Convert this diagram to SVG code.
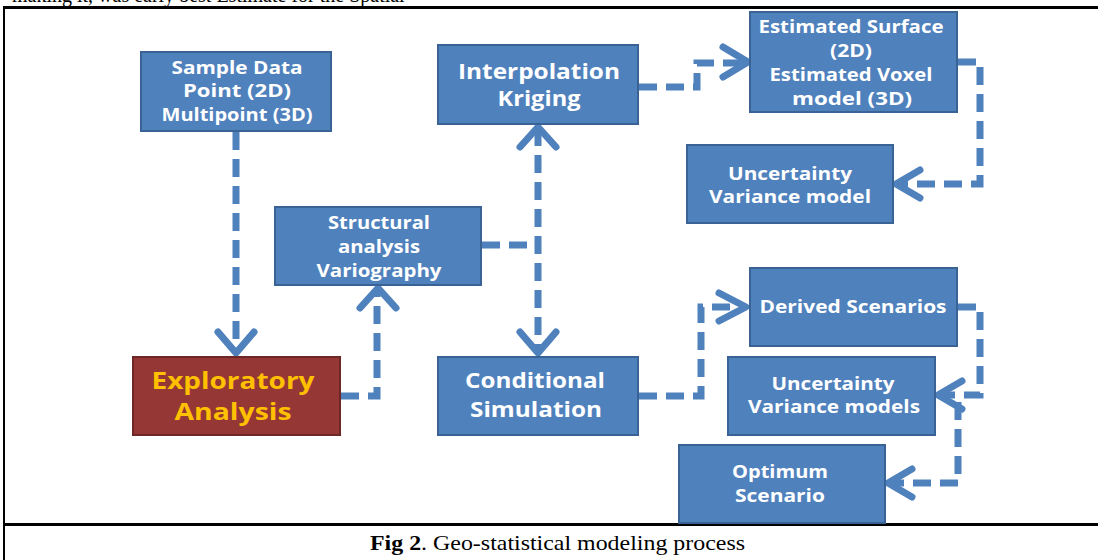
<svg xmlns="http://www.w3.org/2000/svg" width="1098" height="560" viewBox="0 0 1098 560">
<style>
.box{fill:#4F81BD;stroke:#3A6395;stroke-width:2}
.red{fill:#953735;stroke:#6B2826;stroke-width:2}
.t{font-family:"Open Sans","Liberation Sans",sans-serif;font-weight:bold;fill:#FFFFFF;text-anchor:middle}
.ty{font-family:"Open Sans","Liberation Sans",sans-serif;font-weight:bold;fill:#FFC000;text-anchor:middle}
.c{fill:none;stroke:#4F81BD;stroke-width:7;stroke-dasharray:18 9}
.h{fill:none;stroke:#4F81BD;stroke-width:7;stroke-linecap:round;stroke-linejoin:round}
.frame{stroke:#000;fill:none}
.cap{font-family:"Liberation Serif",serif;fill:#000}
</style>
<rect width="1098" height="560" fill="#fff"/>
<text class="cap" font-size="20" x="12" y="1.5">making it, was early best Estimate for the Spatial</text>
<line class="frame" x1="3" y1="7.5" x2="1098" y2="7.5" stroke-width="3"/>
<line class="frame" x1="4" y1="6" x2="4" y2="560" stroke-width="2"/>
<line class="frame" x1="3" y1="524.5" x2="1098" y2="524.5" stroke-width="3"/>
<text class="cap" font-size="22" x="370" y="550" textLength="375" lengthAdjust="spacingAndGlyphs"><tspan font-weight="bold">Fig 2</tspan>. Geo-statistical modeling process</text>

<g id="connectors">
<path class="c" d="M236,132 V350"/>
<path class="h" d="M218,332 L236,353 L254,332"/>
<path class="c" d="M341,396 H377 V290"/>
<path class="h" d="M360,308 L378,288 L396,308"/>
<path class="c" d="M482,245 H538"/>
<path class="c" d="M538,128 V352"/>
<path class="h" d="M520,147 L538,127 L556,147"/>
<path class="h" d="M520,332 L538,353 L556,332"/>
<path class="c" d="M639,87 H697 V63 H744"/>
<path class="h" d="M723,47 L748,62 L723,77"/>
<path class="c" d="M958,62 H980 V184 H900"/>
<path class="h" d="M920,170 L896,184 L920,198"/>
<path class="c" d="M639,396 H701 V307 H744"/>
<path class="h" d="M719,293 L746,307 L719,321"/>
<path class="c" d="M958,307 H980 V395 H942"/>
<path class="h" d="M962,381 L938,395 L962,409"/>
<path class="c" d="M958,402 V483 H892"/>
<path class="h" d="M912,469 L888,483 L912,497"/>
</g>

<g id="sample">
<rect class="box" x="141" y="52" width="190" height="79"/>
<text class="t" font-size="18" x="237" y="74" textLength="131" lengthAdjust="spacingAndGlyphs">Sample Data</text>
<text class="t" font-size="18" x="237" y="97" textLength="108" lengthAdjust="spacingAndGlyphs">Point  (2D)</text>
<text class="t" font-size="18" x="237" y="121" textLength="151" lengthAdjust="spacingAndGlyphs">Multipoint (3D)</text>
</g>
<g id="kriging">
<rect class="box" x="438" y="45" width="200" height="79"/>
<text class="t" font-size="21" x="539" y="79" textLength="162" lengthAdjust="spacingAndGlyphs">Interpolation</text>
<text class="t" font-size="21" x="539" y="106" textLength="83" lengthAdjust="spacingAndGlyphs">Kriging</text>
</g>
<g id="estimated">
<rect class="box" x="750" y="12" width="207" height="100"/>
<text class="t" font-size="18" x="851" y="33" textLength="185" lengthAdjust="spacingAndGlyphs">Estimated Surface</text>
<text class="t" font-size="18" x="851" y="57" textLength="42" lengthAdjust="spacingAndGlyphs">(2D)</text>
<text class="t" font-size="18" x="851" y="81" textLength="163" lengthAdjust="spacingAndGlyphs">Estimated Voxel</text>
<text class="t" font-size="18" x="852" y="105" textLength="120" lengthAdjust="spacingAndGlyphs">model  (3D)</text>
</g>
<g id="uncert1">
<rect class="box" x="687" y="145" width="206" height="78"/>
<text class="t" font-size="18" x="790" y="180" textLength="124" lengthAdjust="spacingAndGlyphs">Uncertainty</text>
<text class="t" font-size="18" x="790" y="203" textLength="162" lengthAdjust="spacingAndGlyphs">Variance model</text>
</g>
<g id="structural">
<rect class="box" x="275" y="207" width="206" height="78"/>
<text class="t" font-size="18" x="379" y="229" textLength="102" lengthAdjust="spacingAndGlyphs">Structural</text>
<text class="t" font-size="18" x="379" y="253" textLength="82" lengthAdjust="spacingAndGlyphs">analysis</text>
<text class="t" font-size="18" x="379" y="277" textLength="125" lengthAdjust="spacingAndGlyphs">Variography</text>
</g>
<g id="exploratory">
<rect class="red" x="133" y="357" width="207" height="78"/>
<text class="ty" font-size="23" x="233" y="389" textLength="163" lengthAdjust="spacingAndGlyphs">Exploratory</text>
<text class="ty" font-size="23" x="233" y="420" textLength="117" lengthAdjust="spacingAndGlyphs">Analysis</text>
</g>
<g id="conditional">
<rect class="box" x="438" y="357" width="200" height="78"/>
<text class="t" font-size="21" x="535" y="388" textLength="140" lengthAdjust="spacingAndGlyphs">Conditional</text>
<text class="t" font-size="21" x="536" y="417" textLength="132" lengthAdjust="spacingAndGlyphs">Simulation</text>
</g>
<g id="derived">
<rect class="box" x="750" y="268" width="207" height="78"/>
<text class="t" font-size="18" x="853" y="313" textLength="187" lengthAdjust="spacingAndGlyphs">Derived Scenarios</text>
</g>
<g id="uncert2">
<rect class="box" x="728" y="357" width="207" height="78"/>
<text class="t" font-size="18" x="833" y="390" textLength="123" lengthAdjust="spacingAndGlyphs">Uncertainty</text>
<text class="t" font-size="18" x="834" y="413" textLength="172" lengthAdjust="spacingAndGlyphs">Variance models</text>
</g>
<g id="optimum">
<rect class="box" x="679" y="445" width="206" height="78"/>
<text class="t" font-size="18" x="780" y="478" textLength="96" lengthAdjust="spacingAndGlyphs">Optimum</text>
<text class="t" font-size="18" x="780" y="502" textLength="90" lengthAdjust="spacingAndGlyphs">Scenario</text>
</g>
</svg>
